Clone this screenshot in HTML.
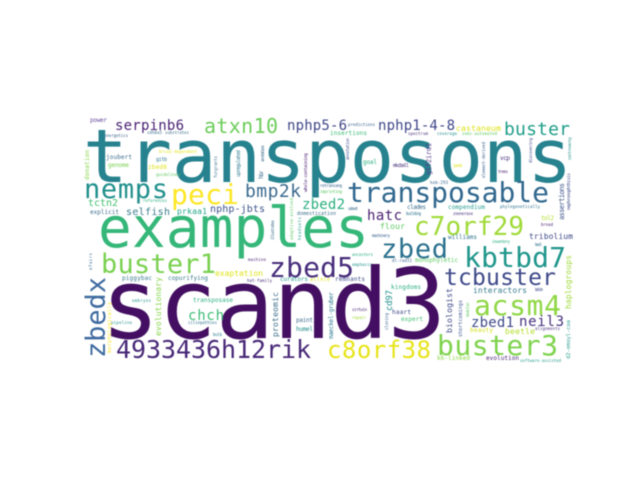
<!DOCTYPE html>
<html lang="en">
<head>
<meta charset="utf-8">
<title>Word cloud</title>
<style>
html,body{margin:0;padding:0;background:#fff;width:640px;height:480px;overflow:hidden}
svg{display:block}
text{font-family:"DejaVu Sans Mono","Liberation Mono",monospace}
#cloud{filter:blur(0.65px)}
</style>
</head>
<body>
<svg width="640" height="480" viewBox="0 0 640 480" xmlns="http://www.w3.org/2000/svg">
<rect width="640" height="480" fill="#fff"/>
<g id="cloud">
<text x="83" y="182" font-size="74" fill="#26828e" textLength="489">transposons</text>
<text x="98" y="247" font-size="56" fill="#35b779" textLength="271">examples</text>
<text x="101" y="338" font-size="97" fill="#440f62" textLength="345">scand3</text>
<text x="84" y="198" font-size="27" fill="#21908c" textLength="84">nemps</text>
<text x="171" y="204" font-size="28" fill="#fde725" textLength="68">peci</text>
<text x="245" y="197" font-size="18" fill="#3b6a8f" textLength="56">bmp2k</text>
<text x="115" y="130" font-size="14" fill="#482173" textLength="69">serpinb6</text>
<text x="204" y="133" font-size="20" fill="#6ccd5a" textLength="74">atxn10</text>
<text x="287" y="130" font-size="14" fill="#3f4788" textLength="60">nphp5-6</text>
<text x="378" y="130" font-size="14" fill="#3f4788" textLength="77">nphp1-4-8</text>
<text x="456" y="131" font-size="8" fill="#dde318" textLength="45">castaneum</text>
<text x="504" y="135" font-size="18" fill="#1f9e89" textLength="66">buster</text>
<text x="347" y="202" font-size="28" fill="#31688e" textLength="202">transposable</text>
<text x="414" y="235" font-size="26" fill="#a0da39" textLength="110">c7orf29</text>
<text x="367" y="220" font-size="14" fill="#481f70" textLength="35">hatc</text>
<text x="380" y="229" font-size="8" fill="#5ec962" textLength="25">flour</text>
<text x="302" y="209" font-size="14" fill="#29af7f" textLength="43">zbed2</text>
<text x="297" y="215" font-size="5" fill="#3e6f8e" textLength="39">domestication</text>
<text x="88" y="206" font-size="10" fill="#43bf71" textLength="30">tctn2</text>
<text x="126" y="215" font-size="10" fill="#3a7d8e" textLength="44">selfish</text>
<text x="177" y="214" font-size="8" fill="#20a486" textLength="30">prkaa1</text>
<text x="210" y="212" font-size="10" fill="#3b528b" textLength="55">nphp-jbts</text>
<text x="90" y="214" font-size="6" fill="#3e6f8e" textLength="29">explicit</text>
<text x="101" y="273" font-size="27" fill="#7ad151" textLength="115">buster1</text>
<text x="269" y="277" font-size="28" fill="#472d7b" textLength="85">zbed5</text>
<text x="381" y="258" font-size="27" fill="#2c728e" textLength="67">zbed</text>
<text x="464" y="267" font-size="28" fill="#1f968b" textLength="102">kbtbd7</text>
<text x="444" y="285" font-size="23" fill="#3e4989" textLength="112">tcbuster</text>
<text x="473" y="293" font-size="8" fill="#3a7d8e" textLength="54">interactors</text>
<text x="474" y="315" font-size="28" fill="#8fd744" textLength="87">acsm4</text>
<text x="471" y="327" font-size="14" fill="#3e4a89" textLength="43">zbed1</text>
<text x="519" y="326" font-size="14" fill="#46307e" textLength="45">neil3</text>
<text x="437" y="355" font-size="28" fill="#7fd34e" textLength="121">buster3</text>
<text x="327" y="358" font-size="24" fill="#e7e419" textLength="104">c8orf38</text>
<text x="116" y="358" font-size="25" fill="#482878" textLength="195">4933436h12rik</text>
<text x="188" y="320" font-size="14" fill="#3dbc74" textLength="36">chch</text>
<text x="215" y="276" font-size="8" fill="#dfe318" textLength="48">exaptation</text>
<text x="122" y="280" font-size="6" fill="#3b7c8e" textLength="30">piggybac</text>
<text x="168" y="280" font-size="6" fill="#3b7c8e" textLength="40">copurifying</text>
<text x="280" y="281" font-size="6" fill="#2a9d8f" textLength="28">curators</text>
<text x="310" y="281" font-size="5" fill="#dfe318" textLength="20">allele</text>
<text x="335" y="281" font-size="6" fill="#3e4989" textLength="30">remnants</text>
<text x="391" y="289" font-size="6" fill="#29af7f" textLength="30">kingdoms</text>
<text x="415" y="262" font-size="6" fill="#5ec962" textLength="43">monophyletic</text>
<text x="392" y="262" font-size="4" fill="#35608d" textLength="20">dl-rad51</text>
<text x="352" y="266" font-size="4" fill="#21908c" textLength="20">emphasis</text>
<text x="352" y="256" font-size="4" fill="#29af7f" textLength="21">ancestors</text>
<text x="247" y="282" font-size="4" fill="#472d7b" textLength="25">hat-family</text>
<text x="248" y="261" font-size="4" fill="#481f70" textLength="18">machine</text>
<text x="193" y="302" font-size="6" fill="#29af7f" textLength="40">transposase</text>
<text x="132" y="302" font-size="4" fill="#21908c" textLength="19">embryos</text>
<text x="111" y="324" font-size="4" fill="#21908c" textLength="21">pipeline</text>
<text x="188" y="324" font-size="4" fill="#2c728e" textLength="29">ciliopathies</text>
<text x="213" y="336" font-size="4" fill="#2a788e" textLength="9">bulb</text>
<text x="296" y="322" font-size="6" fill="#3e6f8e" textLength="17">paint</text>
<text x="296" y="331" font-size="6" fill="#21908c" textLength="17">humel</text>
<text x="392" y="314" font-size="6" fill="#3e4989" textLength="19">haart</text>
<text x="401" y="321" font-size="6" fill="#43bf71" textLength="22">expert</text>
<text x="505" y="334" font-size="8" fill="#b5de2b" textLength="30">beetle</text>
<text x="470" y="332" font-size="6" fill="#d5e21a" textLength="23">beauty</text>
<text x="535" y="330" font-size="4" fill="#46307e" textLength="25">alignments</text>
<text x="437" y="360" font-size="6" fill="#8bd646" textLength="33">k6-linked</text>
<text x="486" y="360" font-size="6" fill="#482173" textLength="33">evolution</text>
<text x="520" y="362" font-size="4" fill="#2a9d8f" textLength="41">software-assisted</text>
<text x="535" y="291" font-size="4" fill="#3e4989" textLength="8">belsh</text>
<text x="352" y="311" font-size="4" fill="#482173" textLength="15">sirtuin</text>
<text x="352" y="319" font-size="4" fill="#a0da39" textLength="14">repair</text>
<text x="330" y="135" font-size="6" fill="#3bbb75" textLength="37">insertions</text>
<text x="348" y="126" font-size="4" fill="#35608d" textLength="27">predictions</text>
<text x="408" y="135" font-size="4" fill="#472d7b" textLength="20">spectrum</text>
<text x="437" y="135" font-size="4" fill="#21908c" textLength="20">coverage</text>
<text x="462" y="135" font-size="4" fill="#5ec962" textLength="35">semi-automated</text>
<text x="363" y="164" font-size="6" fill="#29af7f" textLength="14">goal</text>
<text x="393" y="167" font-size="5" fill="#472d7b" textLength="16">mkcball</text>
<text x="500" y="160" font-size="6" fill="#46307e" textLength="10">vcp</text>
<text x="498" y="173" font-size="4" fill="#481f70" textLength="10">trees</text>
<text x="453" y="167" font-size="4" fill="#dfe318" textLength="9">jared</text>
<text x="430" y="184" font-size="4" fill="#35608d" textLength="18">heb-293</text>
<text x="320" y="187" font-size="4" fill="#35608d" textLength="22">retransang</text>
<text x="320" y="193" font-size="4" fill="#5ec962" textLength="22">imprinting</text>
<text x="348" y="210" font-size="4" fill="#3e6f8e" textLength="10">subset</text>
<text x="407" y="209" font-size="6" fill="#3e6f8e" textLength="19">clades</text>
<text x="448" y="209" font-size="6" fill="#2a9d8f" textLength="37">compendium</text>
<text x="500" y="208" font-size="4" fill="#2c728e" textLength="40">phylogenetically</text>
<text x="406" y="215" font-size="4" fill="#2c728e" textLength="15">building</text>
<text x="453" y="215" font-size="4" fill="#472d7b" textLength="20">zoonerase</text>
<text x="541" y="220" font-size="6" fill="#b5de2b" textLength="13">tol2</text>
<text x="541" y="226" font-size="4" fill="#481f70" textLength="12">broad</text>
<text x="529" y="239" font-size="8" fill="#3e4989" textLength="44">tribolium</text>
<text x="372" y="237" font-size="4" fill="#35608d" textLength="18">machinery</text>
<text x="448" y="239" font-size="6" fill="#2c728e" textLength="29">williams</text>
<text x="492" y="243" font-size="4" fill="#29af7f" textLength="18">inventory</text>
<text x="535" y="246" font-size="4" fill="#2c728e" textLength="7">bool</text>
<text x="90" y="122" font-size="6" fill="#6b4f9e" textLength="17">power</text>
<text x="104" y="137" font-size="4" fill="#35608d" textLength="24">energetics</text>
<text x="147" y="134" font-size="4" fill="#3e6f8e" textLength="15">sdh0a5</text>
<text x="165" y="134" font-size="4" fill="#3e6f8e" textLength="24">substrates</text>
<text x="159" y="153" font-size="4" fill="#dfe318" textLength="38">brca1-dependent</text>
<text x="106" y="159" font-size="6" fill="#3e6f8e" textLength="26">joubert</text>
<text x="108" y="167" font-size="6" fill="#7ad151" textLength="21">genome</text>
<text x="156" y="161" font-size="5" fill="#2a788e" textLength="11">gitb</text>
<text x="148" y="169" font-size="6" fill="#dfe318" textLength="19">zbed6</text>
<text x="156" y="176" font-size="4" fill="#5ec962" textLength="24">guidelines</text>
<text x="143" y="202" font-size="4" fill="#29af7f" textLength="24">references</text>
<text transform="translate(105,358) rotate(-90)" font-size="27" fill="#3f6ba0" textLength="81">zbedx</text>
<text transform="translate(161,336) rotate(-90)" font-size="8" fill="#86d549" textLength="59">evolutionary</text>
<text transform="translate(278,337) rotate(-90)" font-size="8" fill="#3e6f8e" textLength="45">proteomic</text>
<text transform="translate(111,353) rotate(-90)" font-size="5" fill="#fde725" textLength="51">morphologically</text>
<text transform="translate(92,270) rotate(-90)" font-size="4" fill="#3e6f8e" textLength="17">efairs</text>
<text transform="translate(333,339) rotate(-90)" font-size="6" fill="#2a788e" textLength="47">maeckel-gruber</text>
<text transform="translate(392,311) rotate(-90)" font-size="9" fill="#21908c" textLength="21">cd97</text>
<text transform="translate(452,333) rotate(-90)" font-size="8" fill="#3e4989" textLength="45">biologist</text>
<text transform="translate(462,337) rotate(-90)" font-size="5" fill="#3b528b" textLength="37">shortcomings</text>
<text transform="translate(571,309) rotate(-90)" font-size="8" fill="#a0da39" textLength="54">haplogroups</text>
<text transform="translate(570,359) rotate(-90)" font-size="5.5" fill="#2a9d8f" textLength="39">d2-emoyl-coa</text>
<text transform="translate(469,317) rotate(-90)" font-size="4" fill="#5ec962" textLength="15">modular</text>
<text transform="translate(388,330) rotate(-90)" font-size="4" fill="#35608d" textLength="17">cloning</text>
<text transform="translate(349,160) rotate(-90)" font-size="4" fill="#3e4989" textLength="22">annotation</text>
<text transform="translate(431,175) rotate(-90)" font-size="7" fill="#5c3f8e" textLength="32">gtf2ird1</text>
<text transform="translate(485,178) rotate(-90)" font-size="4" fill="#35608d" textLength="36">element-derived</text>
<text transform="translate(532,163) rotate(-90)" font-size="4" fill="#3e4989" textLength="25">discovering</text>
<text transform="translate(571,160) rotate(-90)" font-size="4" fill="#21908c" textLength="23">controversy</text>
<text transform="translate(564,220) rotate(-90)" font-size="7" fill="#3b528b" textLength="37">assertions</text>
<text transform="translate(570,210) rotate(-90)" font-size="4.5" fill="#3e4989" textLength="37">nephronophthisis</text>
<text transform="translate(89,180) rotate(-90)" font-size="6" fill="#86d549" textLength="30">donation</text>
<text transform="translate(217,178) rotate(-90)" font-size="4" fill="#3e6f8e" textLength="22">fungrants</text>
<text transform="translate(240,177) rotate(-90)" font-size="5" fill="#2a788e" textLength="27">upregulated</text>
<text transform="translate(263,179) rotate(-90)" font-size="6" fill="#3e6f8e" textLength="8">hiv</text>
<text transform="translate(264,162) rotate(-90)" font-size="4" fill="#3e6f8e" textLength="17">annotations</text>
<text transform="translate(307,192) rotate(-90)" font-size="4.5" fill="#482173" textLength="39">whole-containing</text>
<text transform="translate(274,240) rotate(-90)" font-size="4" fill="#3e6f8e" textLength="20">illustrates</text>
<text transform="translate(293,240) rotate(-90)" font-size="4" fill="#5ec962" textLength="42">adaptive-evolved</text>
<text transform="translate(301,240) rotate(-90)" font-size="4" fill="#2a9d8f" textLength="23">headsets</text>
</g>
</svg>
</body>
</html>
